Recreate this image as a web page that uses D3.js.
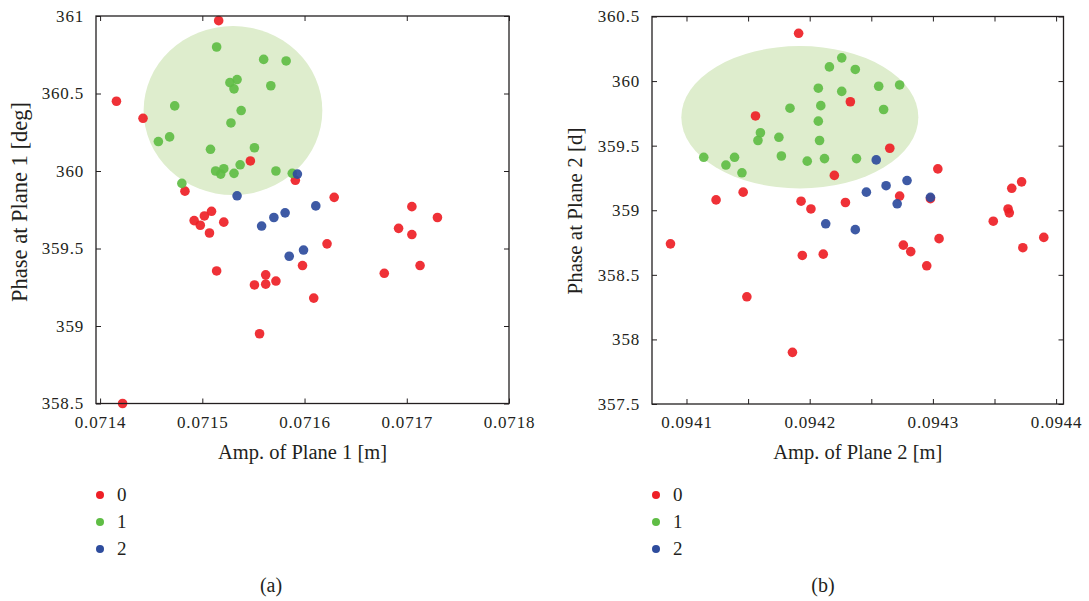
<!DOCTYPE html>
<html>
<head>
<meta charset="utf-8">
<script src="https://cdn.jsdelivr.net/npm/d3@7"></script>
<style>
  body { margin: 0; background: #fff; }
  svg text { font-family: "Liberation Serif", "DejaVu Serif", serif; fill: #231f20; }
</style>
</head>
<body>
<div id="chart"></div>
<script>
// class labels and their colours
var classes = ['0', '1', '2']
var classColors = ['#ee1f26', '#5fbd45', '#2e4c9d']

// panel (a): amplitude / phase at plane 1
var amp1Class0 = [0.071516, 0.071416, 0.071442, 0.071547, 0.071591, 0.071483, 0.071629, 0.071705, 0.071492, 0.071498,
  0.071502, 0.071509, 0.071507, 0.071521, 0.071730, 0.071692, 0.071705, 0.071622, 0.071514, 0.071562,
  0.071551, 0.071562, 0.071572, 0.071598, 0.071609, 0.071678, 0.071713, 0.071556, 0.071422]
var phase1Class0 = [360.97, 360.45, 360.34, 360.065, 359.94, 359.87, 359.83, 359.77, 359.68, 359.65,
  359.71, 359.74, 359.60, 359.67, 359.70, 359.63, 359.59, 359.53, 359.355, 359.33,
  359.265, 359.27, 359.29, 359.39, 359.18, 359.34, 359.39, 358.95, 358.50]
var amp1Class1 = [0.071514, 0.071560, 0.071582, 0.071527, 0.071534, 0.071531, 0.071567, 0.071473, 0.071538, 0.071528,
  0.071457, 0.071468, 0.071508, 0.071551, 0.071513, 0.071521, 0.071518, 0.071531, 0.071537, 0.071572,
  0.071588, 0.071480]
var phase1Class1 = [360.80, 360.72, 360.71, 360.57, 360.59, 360.53, 360.55, 360.42, 360.39, 360.31,
  360.19, 360.22, 360.14, 360.15, 360.00, 360.015, 359.98, 359.985, 360.04, 360.00,
  359.985, 359.92]
var amp1Class2 = [0.071593, 0.071534, 0.071558, 0.071570, 0.071581, 0.071611, 0.071585, 0.071599]
var phase1Class2 = [359.98, 359.84, 359.645, 359.70, 359.73, 359.775, 359.45, 359.49]
// highlighted region of class 1: centre and radii
var region1 = [0.071530, 360.39, 0.0000874, 0.545]
var amp1Ticks = [0.0714, 0.0715, 0.0716, 0.0717, 0.0718]
var phase1Ticks = [358.5, 359, 359.5, 360, 360.5, 361]

// panel (b): amplitude / phase at plane 2
var amp2Class0 = [0.094191, 0.094156, 0.094233, 0.094265, 0.094220, 0.094304, 0.094124, 0.094146, 0.094193, 0.094201,
  0.094229, 0.094273, 0.094298, 0.094364, 0.094372, 0.094087, 0.094361, 0.094362, 0.094349, 0.094390,
  0.094373, 0.094305, 0.094276, 0.094282, 0.094295, 0.094194, 0.094211, 0.094149, 0.094186]
var phase2Class0 = [360.37, 359.73, 359.84, 359.48, 359.27, 359.32, 359.08, 359.14, 359.07, 359.01,
  359.06, 359.11, 359.09, 359.17, 359.22, 358.74, 359.01, 358.98, 358.915, 358.79,
  358.71, 358.78, 358.73, 358.68, 358.57, 358.65, 358.66, 358.33, 357.90]
var amp2Class1 = [0.094226, 0.094216, 0.094237, 0.094207, 0.094226, 0.094256, 0.094273, 0.094184, 0.094209, 0.094260,
  0.094207, 0.094160, 0.094158, 0.094175, 0.094208, 0.094114, 0.094139, 0.094132, 0.094145, 0.094177,
  0.094198, 0.094212, 0.094238]
var phase2Class1 = [360.18, 360.11, 360.09, 359.945, 359.92, 359.96, 359.97, 359.79, 359.81, 359.78,
  359.69, 359.60, 359.54, 359.565, 359.54, 359.41, 359.41, 359.35, 359.29, 359.42,
  359.38, 359.40, 359.40]
var amp2Class2 = [0.094254, 0.094279, 0.094262, 0.094246, 0.094271, 0.094298, 0.094213, 0.094237]
var phase2Class2 = [359.39, 359.23, 359.19, 359.14, 359.05, 359.10, 358.895, 358.85]
var region2 = [0.094192, 359.72, 0.0000962, 0.551]
var amp2Ticks = [0.0941, 0.09415, 0.0942, 0.09425, 0.0943, 0.09435, 0.0944]
var amp2Labels = [0.0941, 0.0942, 0.0943, 0.0944]
var phase2Ticks = [357.5, 358, 358.5, 359, 359.5, 360, 360.5]

var width = 1089
var height = 601

var svg = d3.select('#chart')
  .append('svg')
  .attr('width', width)
  .attr('height', height)

function drawPanel(opts) {
  var x = d3.scaleLinear().domain(opts.xDomain).range([opts.left, opts.right])
  var y = d3.scaleLinear().domain(opts.yDomain).range([opts.bottom, opts.top])
  var g = svg.append('g')

  // shaded region
  g.append('ellipse')
    .attr('cx', x(opts.region[0]))
    .attr('cy', y(opts.region[1]))
    .attr('rx', x(opts.region[0] + opts.region[2]) - x(opts.region[0]))
    .attr('ry', y(opts.region[1] - opts.region[3]) - y(opts.region[1]))
    .style('fill', '#deedcd')

  // points, class by class
  opts.series.forEach(function (s, k) {
    var pts = s[0].map(function (v, i) { return [v, s[1][i]] })
    g.selectAll('pt' + k)
      .data(pts)
      .enter()
      .append('circle')
      .attr('cx', function (d) { return x(d[0]) })
      .attr('cy', function (d) { return y(d[1]) })
      .attr('r', 4.8)
      .style('fill', classColors[k])
      .style('fill-opacity', 0.92)
  })

  // axes: ticks inward on all four sides, labels only bottom/left
  var fmtX = function (d) { return opts.xLabels.indexOf(d) >= 0 ? d3.format('.4f')(d) : '' }
  var axes = [
    d3.axisBottom(x).tickValues(opts.xTicks).tickSizeInner(-5).tickSizeOuter(0).tickPadding(12).tickFormat(fmtX),
    d3.axisTop(x).tickValues(opts.xTicks).tickSizeInner(-5).tickSizeOuter(0).tickFormat(''),
    d3.axisLeft(y).tickValues(opts.yTicks).tickSizeInner(-5).tickSizeOuter(0).tickPadding(12).tickFormat(d3.format('')),
    d3.axisRight(y).tickValues(opts.yTicks).tickSizeInner(-5).tickSizeOuter(0).tickFormat('')
  ]
  var pos = ['translate(0,' + opts.bottom + ')', 'translate(0,' + opts.top + ')',
    'translate(' + opts.left + ',0)', 'translate(' + opts.right + ',0)']
  axes.forEach(function (a, i) {
    var ax = g.append('g').attr('transform', pos[i]).call(a)
    ax.select('.domain').remove()
    ax.selectAll('line').style('stroke', '#231f20').style('stroke-width', 1)
    ax.selectAll('text')
      .style('font-family', '"Liberation Serif", serif')
      .style('font-size', '17px')
      .style('letter-spacing', '0.8px')
      .style('fill', '#231f20')
  })

  // frame
  g.append('rect')
    .attr('x', opts.left).attr('y', opts.top)
    .attr('width', opts.right - opts.left).attr('height', opts.bottom - opts.top)
    .style('fill', 'none').style('stroke', '#231f20').style('stroke-width', 1.3)

  // axis titles
  g.append('text')
    .attr('x', (opts.left + opts.right) / 2).attr('y', 459)
    .attr('text-anchor', 'middle')
    .style('font-size', '20.5px')
    .text(opts.xTitle)
  g.append('text')
    .attr('transform', 'translate(' + opts.yTitleX + ',' + opts.yTitleY + ') rotate(-90)')
    .attr('text-anchor', 'middle')
    .style('font-size', opts.yTitleSize)
    .text(opts.yTitle)

  // legend
  classes.forEach(function (c, i) {
    g.append('circle')
      .attr('cx', opts.legendX).attr('cy', 495 + i * 27)
      .attr('r', 4)
      .style('fill', classColors[i])
    g.append('text')
      .attr('x', opts.legendX + 17).attr('y', 495 + i * 27)
      .attr('dy', '0.34em')
      .style('font-size', '19px')
      .text(c)
  })

  // panel caption
  g.append('text')
    .attr('x', opts.captionX).attr('y', 592)
    .attr('text-anchor', 'middle')
    .style('font-size', '20px')
    .text(opts.caption)
}

drawPanel({
  left: 96, right: 509, top: 16, bottom: 403.5,
  xDomain: [0.071396, 0.0718], yDomain: [358.5, 361],
  xTicks: amp1Ticks, xLabels: amp1Ticks, yTicks: phase1Ticks,
  series: [[amp1Class0, phase1Class0], [amp1Class1, phase1Class1], [amp1Class2, phase1Class2]],
  region: region1,
  xTitle: 'Amp. of Plane 1 [m]',
  yTitle: 'Phase at Plane 1 [deg]', yTitleX: 27, yTitleY: 202, yTitleSize: '22.5px',
  legendX: 100, captionX: 271, caption: '(a)'
})

drawPanel({
  left: 652, right: 1063.5, top: 16.5, bottom: 404,
  xDomain: [0.094072, 0.094406], yDomain: [357.5, 360.5],
  xTicks: amp2Ticks, xLabels: amp2Labels, yTicks: phase2Ticks,
  series: [[amp2Class0, phase2Class0], [amp2Class1, phase2Class1], [amp2Class2, phase2Class2]],
  region: region2,
  xTitle: 'Amp. of Plane 2 [m]',
  yTitle: 'Phase at Plane 2 [d]', yTitleX: 582, yTitleY: 211, yTitleSize: '21px',
  legendX: 656, captionX: 823, caption: '(b)'
})
</script>
</body>
</html>
